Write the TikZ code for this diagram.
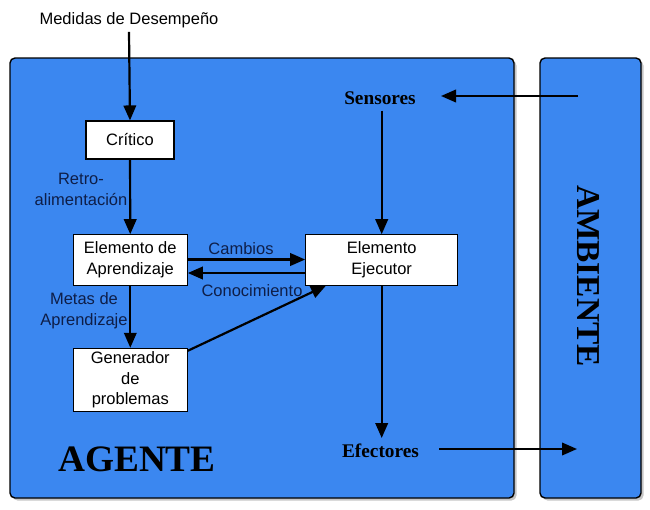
\documentclass[tikz,border=0pt]{standalone}
\usepackage{fontspec}
\setmainfont{Liberation Sans}
\newfontfamily\titlefont{Liberation Serif}
\usetikzlibrary{arrows.meta,shadows}

\definecolor{agentblue}{RGB}{59,135,240}
\definecolor{labelnavy}{RGB}{14,30,72}

\tikzset{
  panel/.style={draw=black, line width=1.4pt, fill=agentblue, rounded corners=5pt,
    drop shadow={shadow xshift=2.5pt, shadow yshift=-2.5pt, opacity=.45}},
  unitbox/.style={draw=black, line width=1.1pt, fill=white, inner sep=0pt, align=center},
  flow/.style={line width=2.2pt, -{Triangle[length=15pt,width=12.5pt]}},
  note/.style={text=labelnavy, align=center, inner sep=0pt},
  bigword/.style={font=\titlefont\bfseries\fontsize{19.3}{22}\selectfont, inner sep=0pt}
}

\begin{document}
\begin{tikzpicture}[
    x=1pt, y=-1pt,
    every node/.style={font=\fontsize{16.5}{20.5}\selectfont}
  ]

  \useasboundingbox (0,0) rectangle (650,509);

  % the two panels
  \draw[panel] (10,58) rectangle (514,498);
  \draw[panel] (540,58) rectangle (641,498);

  \node[bigword, font=\titlefont\bfseries\fontsize{37.3}{40}\selectfont] (agente) at (137,459) {AGENTE};
  \node[bigword, font=\titlefont\bfseries\fontsize{33.4}{36}\selectfont, rotate=-90] (ambiente) at (588,276) {AMBIENTE};

  % inner units
  \node[unitbox, minimum width=88pt, minimum height=38pt] (critico) at (130,140) {Crítico};
  \node[unitbox, minimum width=114pt, minimum height=50.3pt] (aprendizaje) at (130.3,259.9) {Elemento de\\Aprendizaje};
  \node[unitbox, minimum width=114pt, minimum height=63.4pt] (generador) at (130.3,380) {Generador\\de\\problemas};
  \node[unitbox, minimum width=152pt, minimum height=50.3pt] (ejecutor) at (381.7,259.9) {Elemento\\Ejecutor};

  \node[inner sep=0pt] (medidas) at (129,20) {Medidas de Desempeño};
  \node[bigword] (sensores) at (380,98) {Sensores};
  \node[bigword] (efectores) at (380.5,451) {Efectores};

  \coordinate (desdeamb) at (578,96);
  \coordinate (antessens) at (441,96);
  \coordinate (haciaamb) at (577,449);

  % connectors
  \draw[flow] (medidas.south) ++(0,4) -- (critico.north);
  \draw[flow] (critico) -- (aprendizaje);
  \draw[flow] (aprendizaje) -- (generador);
  \draw[flow] (aprendizaje.east |- 0,259.5) -- (ejecutor.west |- 0,259.5);
  \draw[flow] (ejecutor.west |- 0,273) -- (aprendizaje.east |- 0,273);
  \draw[flow] (generador.north east) ++(0,3) -- (ejecutor.south -| 326,0);
  \draw[flow] (desdeamb) -- (antessens);
  \draw[flow] (ejecutor.north |- sensores.south) ++(0,6) -- (ejecutor.north);
  \draw[flow] (ejecutor.south) -- (ejecutor.south |- 0,438);
  \draw[flow] (efectores.east |- haciaamb) ++(20,0) -- (haciaamb);

  % labels on the connectors
  \node[note] (retro) at (81,189.5) {Retro-\\alimentación};
  \node[note] (metas) at (84,310.5) {Metas de\\Aprendizaje};
  \node[note] (cambios) at (241,249) {Cambios};
  \node[note] (conocimiento) at (252,291) {Conocimiento};

\end{tikzpicture}
\end{document}
